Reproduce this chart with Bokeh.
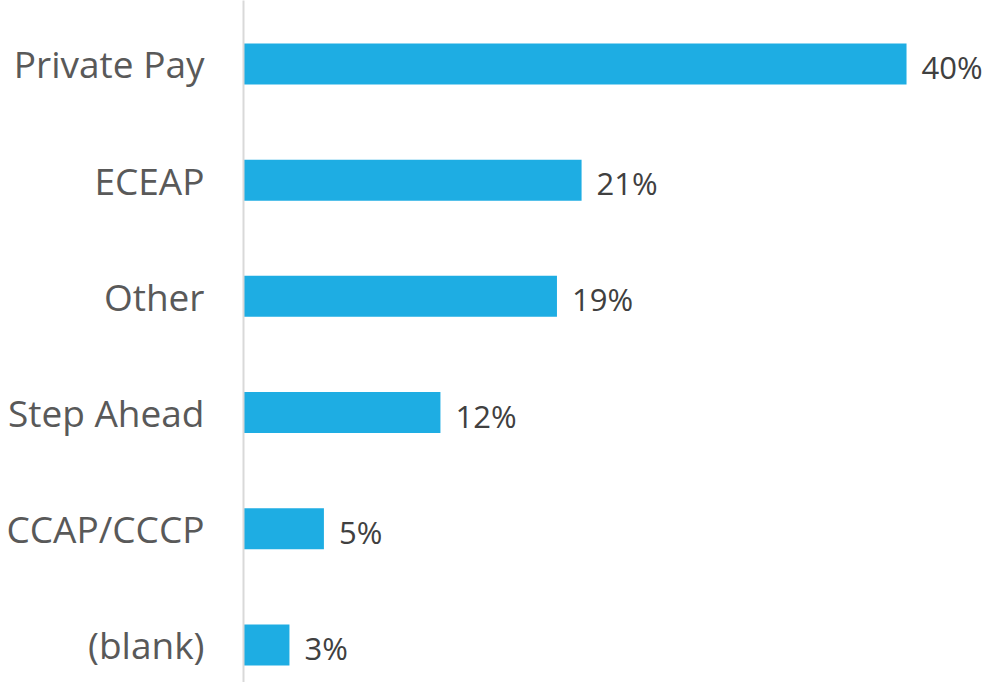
from bokeh.plotting import figure
from bokeh.models import Range1d, FixedTicker, ColumnDataSource, LabelSet
from bokeh.core.properties import value
from bokeh.embed import file_html
from bokeh.resources import INLINE

categories = ["Private Pay", "ECEAP", "Other", "Step Ahead", "CCAP/CCCP", "(blank)"]
values = [40.4, 20.6, 19.1, 12.0, 4.9, 2.8]
labels = [f"{round(v)}%" for v in values]
positions = list(range(len(categories)))

src = ColumnDataSource(dict(y=positions, v=values, lab=labels))

p = figure(width=983, height=682, output_backend="svg", toolbar_location=None,
           x_range=Range1d(0, 45.09), y_range=Range1d(5.323, -0.546),
           min_border_left=243, min_border_right=0, min_border_top=0, min_border_bottom=0)

p.hbar(y="y", left=0, right="v", height=0.353, source=src,
       fill_color="#1EADE3", line_color=None)

ls = LabelSet(x="v", y="y", text="lab", source=src, x_offset=15, y_offset=-3,
              text_baseline="middle", text_align="left",
              text_font=value("Open Sans"), text_font_size="31px", text_color="#404040")
p.add_layout(ls)

p.xaxis.visible = False
p.xgrid.visible = False
p.ygrid.visible = False
p.outline_line_color = None
p.background_fill_color = "white"
p.border_fill_color = "white"

ax = p.yaxis[0]
ax.ticker = FixedTicker(ticks=positions)
ax.major_label_overrides = {i: c for i, c in zip(positions, categories)}
ax.major_tick_line_color = None
ax.minor_tick_line_color = None
ax.major_tick_out = 0
ax.major_tick_in = 0
ax.major_label_standoff = 39
ax.major_label_text_font = "Open Sans"
ax.major_label_text_font_size = "37px"
ax.major_label_text_color = "#595959"
ax.axis_line_color = "#D9D9D9"
ax.axis_line_width = 2

open("out.html", "w").write(file_html(p, INLINE))
